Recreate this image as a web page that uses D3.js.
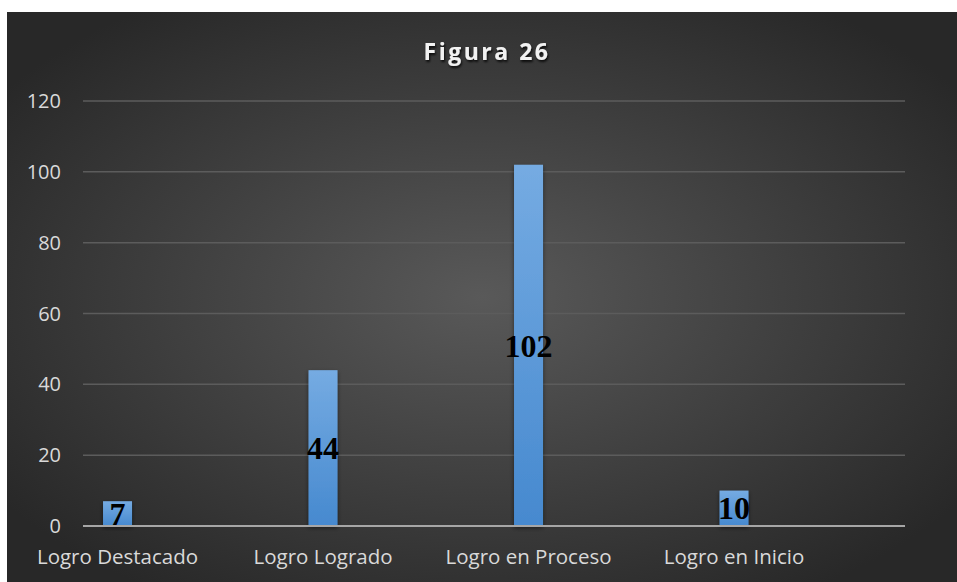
<!DOCTYPE html>
<html>
<head>
<meta charset="utf-8">
<script src="https://cdn.jsdelivr.net/npm/d3@7"></script>
<style>
  body { margin: 0; background: #fff; }
  svg { display: block; }
</style>
</head>
<body>
<svg width="957" height="582"></svg>
<script>
// data
const categories = ["Logro Destacado", "Logro Logrado", "Logro en Proceso", "Logro en Inicio"];
const values = [7, 44, 102, 10];
const yTicks = [0, 20, 40, 60, 80, 100, 120];
const title = "Figura 26";

var svg = d3.select("svg"),
    width = +svg.attr("width"),
    height = +svg.attr("height");

var defs = svg.append("defs");

// background gradient
var bg = defs.append("radialGradient")
    .attr("id", "bg")
    .attr("cx", "50%").attr("cy", "50%").attr("r", "62%");
bg.append("stop").attr("offset", "0%").attr("stop-color", "#595959");
bg.append("stop").attr("offset", "100%").attr("stop-color", "#282828");

// bar gradient
var bar = defs.append("linearGradient")
    .attr("id", "bar")
    .attr("x1", 0).attr("y1", 0).attr("x2", 0).attr("y2", 1);
bar.append("stop").attr("offset", "0%").attr("stop-color", "#75abe2");
bar.append("stop").attr("offset", "100%").attr("stop-color", "#4689cf");

var shadow = defs.append("filter").attr("id", "shadow")
    .attr("x", "-30%").attr("y", "-10%").attr("width", "160%").attr("height", "130%");
shadow.append("feDropShadow")
    .attr("dx", 0).attr("dy", 2).attr("stdDeviation", 2)
    .attr("flood-color", "#000").attr("flood-opacity", 0.5);

var tshadow = defs.append("filter").attr("id", "tshadow");
tshadow.append("feDropShadow")
    .attr("dx", 1).attr("dy", 2).attr("stdDeviation", 1.2)
    .attr("flood-color", "#000").attr("flood-opacity", 0.8);

svg.append("rect")
    .attr("x", 7).attr("y", 12)
    .attr("width", width - 7).attr("height", height - 12)
    .attr("fill", "url(#bg)");

var margin = { left: 83, right: 52, top: 101, bottom: 56 };

var x = d3.scaleBand()
    .domain(categories)
    .range([margin.left, width - margin.right])
    .padding(0);

var y = d3.scaleLinear()
    .domain([0, 120])
    .range([height - margin.bottom, margin.top]);

var barW = x.bandwidth() * 0.141;
var barCenter = c => x(c) + x.bandwidth() * 0.168;

// gridlines
svg.append("g")
    .selectAll("line")
    .data(yTicks.filter(t => t > 0))
    .enter().append("line")
    .attr("x1", margin.left)
    .attr("x2", width - margin.right)
    .attr("y1", d => y(d))
    .attr("y2", d => y(d))
    .attr("stroke", "#5c5c5c")
    .attr("stroke-width", 1.5);

// y tick labels
svg.append("g")
    .selectAll("text")
    .data(yTicks)
    .enter().append("text")
    .attr("x", 61)
    .attr("y", d => y(d))
    .attr("dy", "0.35em")
    .attr("text-anchor", "end")
    .attr("fill", "#d9d9d9")
    .style("font", "20px 'Open Sans', sans-serif")
    .text(d => d);

// bars
svg.append("g")
    .selectAll("rect")
    .data(values)
    .enter().append("rect")
    .attr("x", (d, i) => barCenter(categories[i]) - barW / 2)
    .attr("y", d => y(d))
    .attr("width", barW)
    .attr("height", d => y(0) - y(d))
    .attr("fill", "url(#bar)")
    .attr("filter", "url(#shadow)");

// axis line
svg.append("line")
    .attr("x1", margin.left)
    .attr("x2", width - margin.right)
    .attr("y1", y(0))
    .attr("y2", y(0))
    .attr("stroke", "#a6a6a6")
    .attr("stroke-width", 2);

// category labels
svg.append("g")
    .selectAll("text")
    .data(categories)
    .enter().append("text")
    .attr("x", d => barCenter(d))
    .attr("y", y(0) + 38)
    .attr("text-anchor", "middle")
    .attr("fill", "#d9d9d9")
    .style("font", "20.5px 'Open Sans', sans-serif")
    .text(d => d);

// data labels
svg.append("g")
    .selectAll("text")
    .data(values)
    .enter().append("text")
    .attr("x", (d, i) => barCenter(categories[i]))
    .attr("y", d => (y(d) + y(0)) / 2)
    .attr("dy", "0.35em")
    .attr("text-anchor", "middle")
    .attr("fill", "#000")
    .style("font", "bold 32px 'Liberation Serif', serif")
    .text(d => d);

// title
svg.append("text")
    .attr("x", 487)
    .attr("y", 60)
    .attr("text-anchor", "middle")
    .attr("fill", "#f2f2f2")
    .attr("filter", "url(#tshadow)")
    .style("font", "bold 23px 'Open Sans', sans-serif")
    .style("letter-spacing", "2.5px")
    .text(title);
</script>
</body>
</html>
